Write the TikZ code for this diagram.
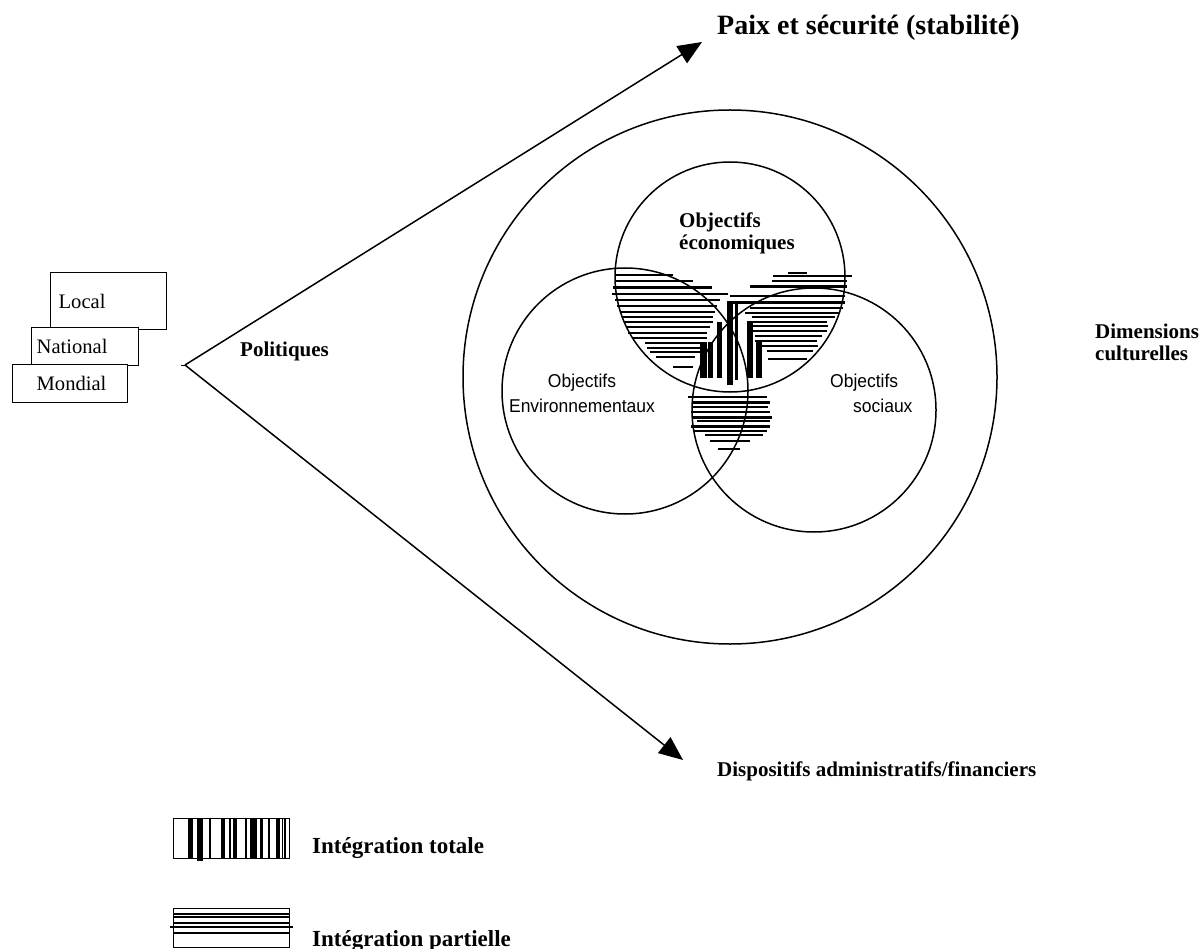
\documentclass[tikz,border=0pt]{standalone}
\usepackage{fontspec}
\setmainfont{Liberation Serif}
\newfontfamily\narrowsans[FakeStretch=0.94]{Liberation Sans}
\usetikzlibrary{arrows.meta}
\begin{document}
\begin{tikzpicture}[x=1pt,y=-1pt,
  ring/.style={circle,draw,line width=1.5pt,inner sep=0pt},
  lvlbox/.style={draw,fill=white,line width=1.3pt,anchor=north west,align=left,inner ysep=0pt,font=\fontsize{20.6}{24}\selectfont},
  legbox/.style={draw,line width=1.3pt,anchor=north west,inner sep=0pt},
  hl/.style={line width=2pt},
  hlb/.style={line width=3pt},
  thinl/.style={line width=1.2pt},
  arrowline/.style={line width=1.5pt,-{Triangle[length=24pt,width=20pt]}},
  lbl/.style={inner sep=0pt,anchor=base west,align=left},
  bold21/.style={font=\bfseries\fontsize{21}{22}\selectfont},
  bold23/.style={font=\bfseries\fontsize{23}{26}\selectfont},
  sanslbl/.style={inner sep=0pt,font=\narrowsans\fontsize{18.6}{25}\selectfont},
]
\useasboundingbox (0,0) rectangle (1204,949);

% ---- partial integration hatching (upper left)
\foreach \y/\a/\b in {275/615/673,281/615/693,294/612/728,300/615/720,306/617/717,312/620/715,317/622/713,322/625/713,327/627/710,333/628/707,338/632/707,343/645/700,348/647/700,352/650/700,357/656/695,367/673/693}
  \draw[hl] (\a,\y) -- (\b,\y);
\draw[hlb] (613,288) -- (712,288);
% ---- upper right
\foreach \y/\a/\b in {273/788/807,276/773/852,281/772/847,296/730/845,308/750/843,313/745/840,317/752/835,322/747/827,326/753/828,331/753/827,336/755/822,341/755/817,346/762/818,351/767/813,359/768/807}
  \draw[hl] (\a,\y) -- (\b,\y);
\draw[hlb] (750,287) -- (847,287);
\draw[hlb] (727,303) -- (845,303);
% ---- lower
\foreach \y/\a/\b in {397/688/767,407/693/768,412/691/770,421/697/770,431/693/767,435/705/763,441/710/750,449/718/740}
  \draw[hl] (\a,\y) -- (\b,\y);
\foreach \y/\a/\b in {402/693/770,417/693/772,426/691/770}
  \draw[hlb] (\a,\y) -- (\b,\y);
% ---- total integration bars
\foreach \a/\b/\c/\d in {700/707/342/378,708/713/342/378,717/722/322/378,727/733/303/385,735/738/303/380,747/753/322/378,756/762/342/378}
  \fill (\a,\c) rectangle (\b,\d);

% ---- circles
\node[ring,minimum size=534pt] (big) at (730,377) {};
\node[ring,minimum size=230pt] (eco) at (730,277) {};
\node[ring,minimum size=246pt] (env) at (625,391) {};
\node[ring,minimum size=244pt] (soc) at (814,410) {};

% ---- circle labels (base = baseline of last line)
\node[lbl,bold21] (ecolbl) at (679,250) {Objectifs\\économiques};
\node[sanslbl,anchor=base,align=center] (envlbl) at (582,412) {Objectifs\\Environnementaux};
\node[sanslbl,anchor=base west,align=left] (soclbl) at (830,412) {Objectifs\\\hspace*{23pt}sociaux};
\node[lbl,bold21] (cult) at (1095,360) {Dimensions\\culturelles};

% ---- level boxes
\node[lvlbox,minimum width=116pt,minimum height=57pt,text width=100pt,inner xsep=8pt] (local) at (50,272) {Local};
\node[lvlbox,minimum width=107pt,minimum height=38pt,text width=97pt,inner xsep=5pt] (national) at (31,327) {National};
\node[lvlbox,minimum width=115pt,minimum height=38pt,text width=67pt,inner xsep=24pt] (mondial) at (12,364) {Mondial};

% ---- politiques and arrows
\coordinate (apex) at (185,365);
\coordinate (paixtip) at (702,42);
\coordinate (disptip) at (683,760);
\coordinate (tick) at (181,365);
\draw[line width=1pt] (tick) -- (apex);
\draw[arrowline] (apex) -- (paixtip);
\draw[arrowline] (apex) -- (disptip);
\node[lbl,bold21] (pol) at (240,356) {Politiques};
\node[lbl,font=\bfseries\fontsize{28}{30}\selectfont] (paix) at (717,35) {Paix et sécurité (stabilité)};
\node[lbl,bold21] (disp) at (717,776) {Dispositifs administratifs/financiers};

% ---- legend: total integration
\node[legbox,minimum width=116pt,minimum height=40pt] (legtot) at (173,818) {};
\foreach \a/\b in {187.7/192.7,220.7/225.3,233.3/237.3,250/256.7,260/262.7,276/280}
  \fill (\a,818) rectangle (\b,858);
\fill (197.3,818) rectangle (203.3,861);
\foreach \x in {210,230,246,269,282.7,285}
  \draw[thinl] (\x,818) -- (\x,858);
\node[lbl,bold23] (tottxt) at (312,853) {Intégration totale};

% ---- legend: partial integration
\node[legbox,minimum width=116pt,minimum height=39pt] (legpar) at (173,908) {};
\foreach \y in {914,917,923,933}
  \draw[thinl] (173,\y) -- (289,\y);
\draw[line width=1.6pt] (170,927) -- (293,927);
\node[lbl,bold23] (partxt) at (312,946) {Intégration partielle};
\end{tikzpicture}
\end{document}
